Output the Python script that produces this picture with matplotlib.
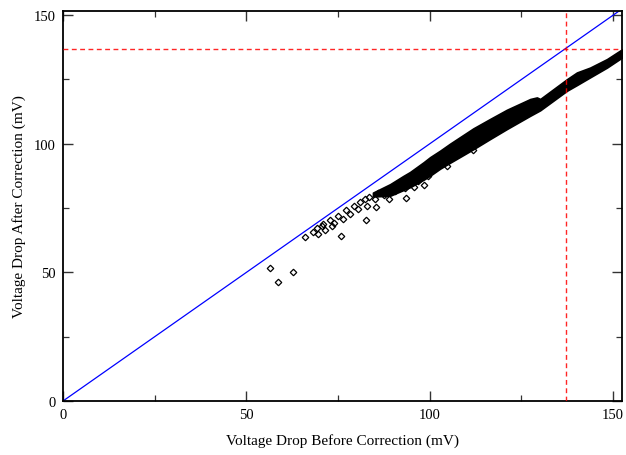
import matplotlib
matplotlib.use("Agg")
import matplotlib.pyplot as plt
from matplotlib.ticker import MultipleLocator

plt.rcParams['font.family'] = ['Liberation Serif', 'DejaVu Serif']

# Dense band of points (upper / lower envelope)
band_x  = [84.5, 89.2, 92.8, 94.6, 98.3, 100.1, 102.8, 105.5, 111.9, 116.4, 121.0, 127.4, 129.2, 130.1, 137.4, 140.1, 143.7, 148.3, 152.4]
band_hi = [81.0, 84.3, 87.5, 89.0, 92.8, 94.8, 97.3, 100.0, 106.0, 109.6, 113.2, 117.4, 118.0, 117.4, 125.1, 127.7, 129.6, 132.9, 136.7]
band_lo = [79.5, 79.8, 82.0, 83.1, 86.0, 87.6, 90.3, 92.6, 97.9, 101.8, 105.7, 110.9, 112.3, 113.0, 120.6, 122.8, 125.8, 129.6, 133.5]

# Sparse individual points
pts_x = [56.5, 58.5, 62.8, 66.0, 68.1, 69.6, 69.2, 70.5, 71.4, 71.0, 72.8, 73.3, 73.9, 75.1, 76.4,
         77.2, 78.3, 79.2, 80.5, 75.9, 82.6, 81.0, 82.4, 83.3, 83.0, 85.3, 85.1, 88.9, 93.5, 93.3,
         95.7, 96.7, 98.4, 99.4, 104.6, 111.9, 86.0, 87.5, 90.5]
pts_y = [51.8, 46.1, 50.0, 63.6, 65.5, 64.9, 67.1, 67.9, 66.6, 68.8, 70.5, 67.9, 69.2, 72.0, 70.7,
         74.3, 72.7, 75.7, 74.6, 64.2, 70.5, 77.5, 78.5, 79.3, 75.7, 75.4, 78.5, 78.7, 79.0, 82.8,
         83.1, 85.5, 83.8, 87.6, 91.4, 97.6, 81.0, 80.2, 81.5]

# Reference lines
diag_x = [0, 152.4]
diag_y = [0, 152.4]
ref_x = 137.2
ref_y = 136.8

xticks = [0, 50, 100, 150]
yticks = [0, 50, 100, 150]

fig = plt.figure(figsize=(6.26, 4.56), dpi=100)
ax = fig.add_axes([63/626, 54/456, 559/626, 390/456])

ax.plot(diag_x, diag_y, color='#0000ff', lw=0.9, zorder=2)
ax.fill_between(band_x, band_lo, band_hi, color='black', lw=1.2, edgecolor='black', zorder=3)
ax.plot(pts_x, pts_y, ls='none', marker='D', ms=3.3, mfc='none', mec='black', mew=0.9, zorder=3)
ax.axvline(ref_x, color='#ff0000', lw=1.0, ls=(0, (3.5, 2.5)), zorder=4, alpha=0.85)
ax.axhline(ref_y, color='#ff0000', lw=1.0, ls=(0, (3.5, 2.5)), zorder=4, alpha=0.85)

ax.set_xlim(0, 152.4)
ax.set_ylim(0, 151.6)
ax.set_xticks(xticks)
ax.set_yticks(yticks)
ax.xaxis.set_minor_locator(MultipleLocator(25))
ax.yaxis.set_minor_locator(MultipleLocator(25))
ax.tick_params(which='both', direction='in', top=True, right=True, labelsize=10.5, color='#333333')
ax.tick_params(which='major', length=7.5, width=1.0, pad=5)
ax.tick_params(which='minor', length=4, width=0.9)
for s in ax.spines.values():
    s.set_linewidth(1.3)

ax.set_xlabel('Voltage Drop Before Correction (mV)', fontsize=11, labelpad=9)
ax.set_ylabel('Voltage Drop After Correction (mV)', fontsize=11, labelpad=6)

fig.savefig('out.png', dpi=100)
